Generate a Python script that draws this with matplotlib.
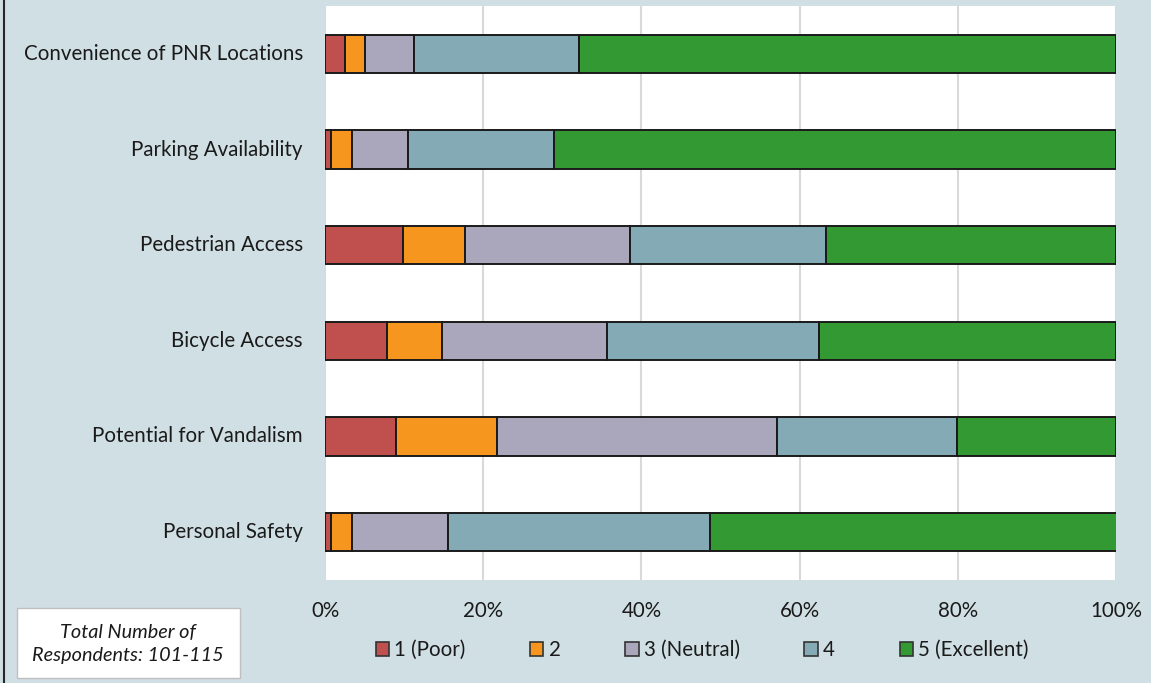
import matplotlib
matplotlib.use("Agg")
import matplotlib.pyplot as plt
from matplotlib.patches import Patch, Rectangle
from matplotlib.lines import Line2D
import numpy as np

plt.rcParams['font.family'] = ['Lato', 'DejaVu Sans']

# Survey items (top to bottom) and share of responses per rating (%)
categories = [
    "Convenience of PNR Locations",
    "Parking Availability",
    "Pedestrian Access",
    "Bicycle Access",
    "Potential for Vandalism",
    "Personal Safety",
]
rating_labels = ["1 (Poor)", "2", "3 (Neutral)", "4", "5 (Excellent)"]
poor = [2.5, 0.8, 9.8, 7.8, 9.0, 0.8]
two = [2.6, 2.6, 7.9, 7.0, 12.7, 2.6]
neutral = [6.1, 7.1, 20.8, 20.8, 35.5, 12.2]
four = [20.9, 18.4, 24.8, 26.8, 22.7, 33.1]
excellent = [67.9, 71.1, 36.7, 37.6, 20.1, 51.4]
series = [poor, two, neutral, four, excellent]
colors = ["#C0504D", "#F7961F", "#AAA7BD", "#84ABB5", "#339933"]
xticks = [0, 20, 40, 60, 80, 100]
xtick_labels = ["0%", "20%", "40%", "60%", "80%", "100%"]
note_text = "Total Number of\nRespondents: 101-115"

FS = 14.8
bg = "#D0DFE4"
fig = plt.figure(figsize=(11.51, 6.83), dpi=100, facecolor=bg)
ax = fig.add_axes([325 / 1151, (683 - 580) / 683, 791 / 1151, 574 / 683])
ax.set_facecolor("white")

y = np.arange(len(categories))
left = np.zeros(len(categories))
for vals, col, lab in zip(series, colors, rating_labels):
    vals = np.array(vals)
    ax.barh(y, vals, left=left, height=0.4, color=col, edgecolor="#1A1A1A",
            linewidth=1.4, label=lab, zorder=3)
    left += vals

ax.set_xlim(0, 100)
ax.set_ylim(len(categories) - 0.5, -0.5)
ax.set_yticks(y)
ax.set_yticklabels(categories, fontsize=FS, color="#1A1A1A", va="center")
for t in ax.get_yticklabels():
    t.set_y(t.get_position()[1])
ax.set_xticks(xticks)
ax.set_xticklabels(xtick_labels, fontsize=FS, color="#1A1A1A")
ax.tick_params(axis="y", length=0, pad=16)
ax.tick_params(axis="x", length=0, pad=15)
ax.xaxis.grid(True, color="#D9D9D9", linewidth=1.5, zorder=0)
for s in ax.spines.values():
    s.set_visible(False)

handles = [Patch(facecolor=c, edgecolor="#333333", linewidth=1.2) for c in colors]
fig.legend(handles, rating_labels, loc="center", bbox_to_anchor=(702 / 1151, 1 - 650 / 683),
           ncol=5, frameon=False, fontsize=FS, handlelength=0.65, handleheight=0.65,
           handletextpad=0.25, columnspacing=3.15, labelcolor="#1A1A1A")

# Respondent count note box
fig.patches.append(Rectangle((17 / 1151, 1 - 678 / 683), 223 / 1151, 70 / 683,
                             transform=fig.transFigure, facecolor="white",
                             edgecolor="#BFBFBF", linewidth=1.0))
fig.text(128 / 1151, 1 - 644 / 683, note_text, ha="center", va="center",
         fontsize=14.3, style="italic", color="#1A1A1A", linespacing=1.45)

# Left frame edge
fig.add_artist(Line2D([4 / 1151, 4 / 1151], [0, 1], transform=fig.transFigure,
                      color="#262626", linewidth=1.5))

fig.savefig("out.png", dpi=100, facecolor=bg)
